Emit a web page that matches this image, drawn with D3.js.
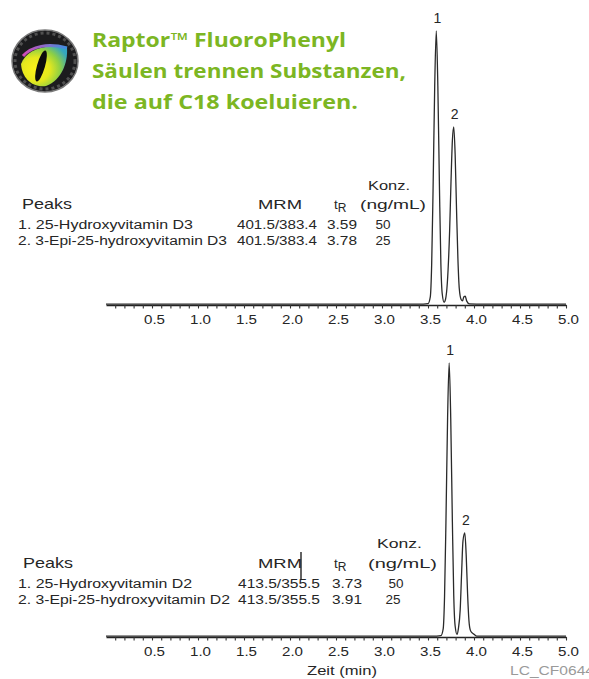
<!DOCTYPE html>
<html>
<head>
<meta charset="utf-8">
<script src="https://cdn.jsdelivr.net/npm/d3@7"></script>
<style>
  body { margin: 0; background: #fff; }
  text { font-family: "Liberation Sans", Arial, sans-serif; fill: #262626; }
</style>
</head>
<body>
<div id="plot"></div>
<script>
// ---- data ----
var titleLines = ["Raptor\u2122 FluoroPhenyl", "S\u00e4ulen trennen Substanzen,", "die auf C18 koeluieren."]
var tickLabels = [0.5, 1.0, 1.5, 2.0, 2.5, 3.0, 3.5, 4.0, 4.5, 5.0]
var minorTicks = [0.1, 0.2, 0.3, 0.4, 0.5, 0.6, 0.7, 0.8, 0.9, 1.0, 1.1, 1.2, 1.3, 1.4, 1.5, 1.6, 1.7, 1.8, 1.9, 2.0,
  2.1, 2.2, 2.3, 2.4, 2.5, 2.6, 2.7, 2.8, 2.9, 3.0, 3.1, 3.2, 3.3, 3.4, 3.5, 3.6, 3.7, 3.8, 3.9, 4.0,
  4.1, 4.2, 4.3, 4.4, 4.5, 4.6, 4.7, 4.8, 4.9, 5.0]

var headers = ["Peaks", "MRM", "t", "Konz.", "(ng/mL)"]
var peaksD3 = [
  ["1. 25-Hydroxyvitamin D3", "401.5/383.4", "3.59", "50"],
  ["2. 3-Epi-25-hydroxyvitamin D3", "401.5/383.4", "3.78", "25"]
]
var peaksD2 = [
  ["1. 25-Hydroxyvitamin D2", "413.5/355.5", "3.73", "50"],
  ["2. 3-Epi-25-hydroxyvitamin D2", "413.5/355.5", "3.91", "25"]
]

// [time (min), relative response]
var traceD3 = [[0, 0.3], [3.40, 0.3], [3.50, 0.5], [3.525, 3], [3.54, 15], [3.555, 42], [3.573, 80], [3.59, 100],
  [3.607, 80], [3.625, 42], [3.64, 15], [3.655, 4], [3.675, 1], [3.69, 2], [3.71, 8], [3.735, 27], [3.75, 45],
  [3.765, 60], [3.78, 65], [3.795, 55], [3.81, 35], [3.825, 17], [3.84, 6], [3.86, 2], [3.875, 1.5],
  [3.89, 3], [3.905, 3.2], [3.92, 1.5], [3.95, 0.4], [4.1, 0.3], [5, 0.3]]
var traceD2 = [[0, 0.3], [3.55, 0.3], [3.64, 0.5], [3.665, 3], [3.68, 15], [3.695, 42], [3.713, 80], [3.73, 100],
  [3.747, 80], [3.765, 42], [3.78, 15], [3.795, 4], [3.815, 1], [3.83, 3], [3.85, 10], [3.865, 23], [3.88, 35],
  [3.90, 38], [3.915, 30], [3.93, 16], [3.945, 6], [3.96, 2.5], [3.98, 1.5], [4.0, 1], [4.03, 0.3], [5, 0.3]]

var labelsD3 = [["1", 3.59, 100], ["2", 3.78, 65]]
var labelsD2 = [["1", 3.73, 100], ["2", 3.90, 38]]

// ---- layout ----
var W = 589, H = 679
var green = "#7cb623"

var svg = d3.select("#plot")
  .append("svg")
  .attr("width", W)
  .attr("height", H)
  .style("display", "block")

svg.append("rect").attr("width", W).attr("height", H).attr("fill", "#fff")

var xScale = d3.scaleLinear().domain([0, 5]).range([106, 566])
var yTop = d3.scaleLinear().domain([0, 100]).range([305, 31])
var yBot = d3.scaleLinear().domain([0, 100]).range([637, 363])

// logo (cat eye)
var defs = svg.append("defs")
var grad = defs.append("radialGradient").attr("id", "eye")
  .attr("cx", "32%").attr("cy", "58%").attr("r", "75%")
grad.append("stop").attr("offset", "0%").attr("stop-color", "#fbf21a")
grad.append("stop").attr("offset", "40%").attr("stop-color", "#e6e81e")
grad.append("stop").attr("offset", "70%").attr("stop-color", "#8fd043")
grad.append("stop").attr("offset", "100%").attr("stop-color", "#34a6c0")
var rim = defs.append("linearGradient").attr("id", "rim")
  .attr("x1", "0%").attr("x2", "100%").attr("y1", "0%").attr("y2", "0%")
rim.append("stop").attr("offset", "0%").attr("stop-color", "#d24bb6")
rim.append("stop").attr("offset", "100%").attr("stop-color", "#3f8fe0")

var logo = svg.append("g")
logo.append("ellipse").attr("cx", 45).attr("cy", 61).attr("rx", 33).attr("ry", 31)
  .attr("fill", "#1c1c1e").attr("stroke", "#7a7a7a").attr("stroke-width", 1.5)
logo.append("ellipse").attr("cx", 45).attr("cy", 61).attr("rx", 30).attr("ry", 28)
  .attr("fill", "none").attr("stroke", "#505050").attr("stroke-width", 3)
  .attr("stroke-dasharray", "3 3")
logo.append("path")
  .attr("d", "M21,64 C26,50 44,43 67,48 C68,62 62,80 46,86 C32,88 22,78 21,64 Z")
  .attr("fill", "url(#eye)")
logo.append("path")
  .attr("d", "M23,56 C32,46 48,43 67,48")
  .attr("fill", "none").attr("stroke", "url(#rim)").attr("stroke-width", 3)
logo.append("ellipse").attr("cx", 41).attr("cy", 66).attr("rx", 4).attr("ry", 16)
  .attr("transform", "rotate(16,41,66)").attr("fill", "#0d0d0d")

// title
var titleY = [47, 78, 109]
var titleW = [254, 314, 266]
svg.selectAll(".title")
  .data(titleLines)
  .enter()
  .append("text")
  .attr("class", "title")
  .attr("x", 92)
  .attr("y", (d, i) => titleY[i])
  .attr("textLength", (d, i) => titleW[i])
  .attr("lengthAdjust", "spacingAndGlyphs")
  .style("font-family", "'Open Sans', sans-serif")
  .style("font-weight", 700)
  .style("font-size", "20px")
  .style("fill", green)
  .text(d => d)

// axes
var drawAxis = function (yBase) {
  var g = svg.append("g").attr("transform", "translate(0," + yBase + ")")
  g.call(d3.axisBottom(xScale).tickValues(minorTicks).tickSize(3.5).tickSizeOuter(0).tickFormat(""))
  g.select(".domain").attr("stroke", "#222").attr("stroke-width", 1.6)
  g.selectAll(".tick line").attr("stroke", "#333").attr("stroke-width", 1.1)

  var lab = svg.append("g").attr("transform", "translate(2," + yBase + ")")
  lab.call(d3.axisBottom(xScale).tickValues(tickLabels).tickSize(0).tickPadding(10).tickFormat(d3.format(".1f")))
  lab.select(".domain").remove()
  lab.selectAll("text")
    .attr("font-size", 12.5)
    .attr("font-family", "'Liberation Sans', Arial, sans-serif")
    .attr("fill", "#333")
    .attr("textLength", 21)
    .attr("lengthAdjust", "spacingAndGlyphs")
}
drawAxis(305)
drawAxis(637)

// traces
var drawTrace = function (data, yScale, labels) {
  var line = d3.line()
    .x(d => xScale(d[0]))
    .y(d => yScale(d[1]))
    .curve(d3.curveMonotoneX)
  svg.append("path")
    .datum(data)
    .attr("d", line)
    .attr("fill", "none")
    .attr("stroke", "#2a2a2a")
    .attr("stroke-width", 1.3)
    .attr("stroke-linejoin", "round")

  svg.selectAll(null)
    .data(labels)
    .enter()
    .append("text")
    .attr("x", d => xScale(d[1]) + 1)
    .attr("y", d => yScale(d[2]) - 8)
    .attr("text-anchor", "middle")
    .attr("font-size", 14)
    .text(d => d[0])
}
drawTrace(traceD3, yTop, labelsD3)
drawTrace(traceD2, yBot, labelsD2)

// peak tables
var drawTable = function (rows, L) {
  var g = svg.append("g")
  var t = function (x, y, s, w, size, anchor) {
    var el = g.append("text")
      .attr("x", x).attr("y", y)
      .attr("font-size", size)
      .attr("text-anchor", anchor || "start")
      .text(s)
    if (w) el.attr("textLength", w).attr("lengthAdjust", "spacingAndGlyphs")
    return el
  }
  t(L.konzX, L.konzY, headers[3], L.konzW, 13.5)
  t(L.peaksX, L.headY, headers[0], 50, 14.5)
  t(L.mrmX, L.headY, headers[1], 44, 13.5)
  var tr = t(L.trX, L.headY, headers[2], null, 13.5)
  tr.append("tspan").attr("dy", 3).attr("font-size", 12).text("R")
  t(L.ngX, L.headY, headers[4], L.ngW, 13.5)

  rows.forEach(function (r, i) {
    var y = L.rowY[i]
    t(18, y, r[0], L.nameW[i], 12)
    t(L.mrmValX, y, r[1], L.mrmValW, 12)
    t(L.trValX, y, r[2], 30, 12)
    t(L.concX[i], y, r[3], 15, 12, "middle")
  })
}

drawTable(peaksD3, {
  konzX: 368, konzY: 190, headY: 209, peaksX: 22, mrmX: 258, trX: 334, ngX: 360, ngW: 66,
  konzW: 42, rowY: [229, 245], nameW: [175, 209], mrmValX: 237, mrmValW: 80, trValX: 327,
  concX: [383, 383]
})
drawTable(peaksD2, {
  konzX: 377, konzY: 548, headY: 568, peaksX: 23, mrmX: 258, trX: 334, ngX: 368, ngW: 69,
  konzW: 45, rowY: [588, 604], nameW: [174, 212], mrmValX: 238, mrmValW: 82, trValX: 332,
  concX: [396, 393]
})

// stray mark next to MRM in the lower table
svg.append("line")
  .attr("x1", 301).attr("x2", 301).attr("y1", 552).attr("y2", 580)
  .attr("stroke", "#222").attr("stroke-width", 1.4)

// axis title and code
svg.append("text")
  .attr("x", 342).attr("y", 675)
  .attr("text-anchor", "middle")
  .attr("font-size", 13)
  .attr("textLength", 70)
  .attr("lengthAdjust", "spacingAndGlyphs")
  .text("Zeit (min)")

svg.append("text")
  .attr("x", 510).attr("y", 675)
  .attr("font-size", 12)
  .attr("textLength", 84)
  .attr("lengthAdjust", "spacingAndGlyphs")
  .style("fill", "#9a9a9a")
  .text("LC_CF0644")
</script>
</body>
</html>
